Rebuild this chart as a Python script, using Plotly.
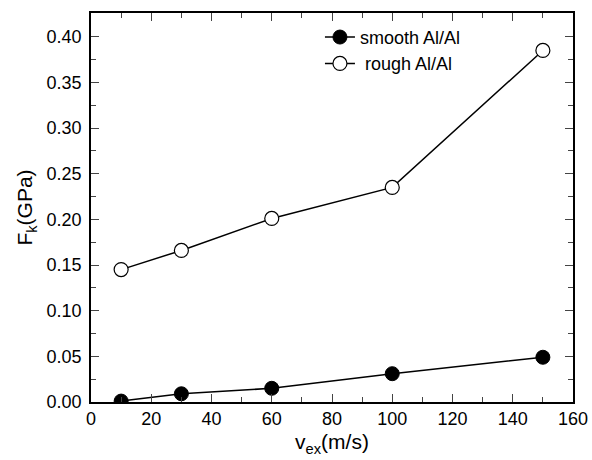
import plotly.graph_objects as go

v_ex = [10, 30, 60, 100, 150]
smooth = [0.001, 0.009, 0.015, 0.031, 0.049]
rough = [0.145, 0.166, 0.201, 0.235, 0.385]

fig = go.Figure()
fig.add_trace(go.Scatter(x=v_ex, y=smooth, mode="lines+markers", name="smooth Al/Al",
                         line=dict(color="black", width=1.5),
                         marker=dict(symbol="circle", size=14, color="black",
                                     line=dict(color="black", width=1))))
fig.add_trace(go.Scatter(x=v_ex, y=rough, mode="lines+markers", name=" rough Al/Al",
                         line=dict(color="black", width=1.5),
                         marker=dict(symbol="circle", size=14, color="white",
                                     line=dict(color="black", width=1.2))))

font = dict(family="Liberation Sans, Arial, sans-serif", size=18, color="black")
fig.update_layout(
    width=592, height=460,
    margin=dict(l=91, r=19, t=13, b=58),
    paper_bgcolor="white", plot_bgcolor="white",
    font=font,
    showlegend=True,
    legend=dict(x=0.475, y=0.985, xanchor="left", yanchor="top",
                bgcolor="rgba(0,0,0,0)", font=dict(size=18),
                tracegroupgap=0),
    xaxis=dict(range=[0, 160], dtick=20, ticks="inside", ticklen=8, tickwidth=1.4,
               showline=True, linecolor="black", linewidth=1.6, mirror="allticks",
               showgrid=False, zeroline=False, tickfont=dict(size=18), automargin=False,
               minor=dict(ticks="inside", dtick=10, ticklen=5, tickwidth=1.4),
               title=dict(text="v<sub>ex</sub>(m/s)", font=dict(size=21), standoff=6)),
    yaxis=dict(range=[0, 0.426], dtick=0.05, tickformat=".2f", ticks="inside", ticklen=8,
               tickwidth=1.4, showline=True, linecolor="black", linewidth=1.6,
               mirror="allticks", showgrid=False, zeroline=False, tickfont=dict(size=18),
               automargin=False, ticklabelstandoff=4,
               minor=dict(ticks="inside", dtick=0.025, ticklen=5, tickwidth=1.4),
               title=dict(text="F<sub>k</sub>(GPa)", font=dict(size=21), standoff=8)),
)
fig.write_html("out.html")
